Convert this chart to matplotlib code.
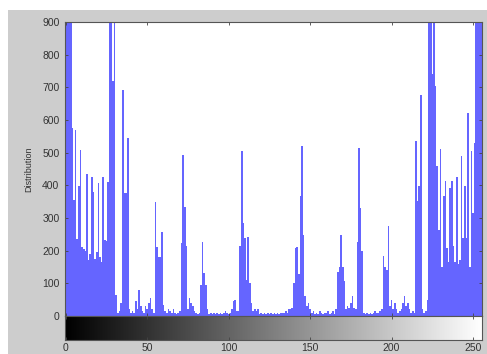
import numpy as np
import matplotlib
matplotlib.use("Agg")
import matplotlib.pyplot as plt
from matplotlib.patches import Rectangle

# histogram counts for gray levels 0..255 (tall ones clip at 900)
counts = [
    1500, 1200, 1000, 950, 576, 356, 568, 235, 397, 507, 210, 205, 200, 435, 172, 190,
    427, 381, 175, 195, 407, 180, 165, 424, 233, 230, 410, 950, 950, 720, 950, 65,
    10, 15, 40, 693, 376, 376, 545, 20, 10, 15, 10, 45, 20, 80, 30, 15,
    10, 30, 20, 40, 55, 20, 10, 349, 210, 180, 180, 256, 35, 15, 10, 20,
    15, 10, 20, 10, 5, 10, 15, 223, 494, 335, 215, 20, 55, 40, 30, 15,
    10, 5, 10, 95, 226, 131, 95, 20, 5, 10, 5, 8, 5, 10, 5, 10,
    5, 8, 15, 10, 5, 10, 20, 45, 50, 15, 15, 213, 504, 284, 240, 110,
    241, 100, 40, 15, 20, 15, 20, 5, 10, 5, 10, 5, 8, 5, 10, 5,
    8, 5, 10, 5, 10, 8, 10, 15, 10, 20, 20, 25, 100, 208, 212, 130,
    366, 519, 248, 60, 30, 40, 20, 10, 15, 5, 10, 5, 15, 10, 5, 10,
    10, 15, 5, 10, 15, 5, 20, 136, 150, 248, 150, 108, 20, 30, 25, 40,
    60, 25, 20, 226, 514, 330, 200, 10, 5, 8, 5, 10, 5, 10, 15, 10,
    10, 15, 20, 184, 150, 140, 276, 30, 50, 20, 40, 20, 10, 15, 20, 40,
    60, 30, 40, 20, 10, 15, 10, 535, 351, 397, 678, 20, 10, 15, 50, 950,
    950, 742, 950, 705, 458, 264, 511, 151, 366, 412, 208, 165, 392, 412, 215, 165,
    427, 160, 170, 489, 240, 397, 238, 622, 150, 504, 315, 530, 950, 950, 950, 950,
]
levels = np.arange(256)
y_ticks = [0, 100, 200, 300, 400, 500, 600, 700, 800, 900]
x_ticks = [0, 50, 100, 150, 200, 250]

plt.rcParams['font.family'] = ['Liberation Sans', 'DejaVu Sans']

fig = plt.figure(figsize=(4.87, 3.54), dpi=100, facecolor='white')
# gray window area, white strip at top and left
fig.patches.append(Rectangle((8 / 487, 0), 1 - 8 / 487, 1 - 10 / 354, transform=fig.transFigure,
                             facecolor='#cdcdcd', edgecolor='none', zorder=-1))

ax = fig.add_axes([65 / 487, 38 / 354, 417 / 487, 294 / 354])
ax.bar(levels, counts, width=1.0, color='#4a4aff', edgecolor='none', alpha=0.85)
ax.set_xlim(-0.5, 255.5)
ax.set_ylim(0, 900)
ax.set_yticks(y_ticks)
ax.set_xticks(x_ticks)
ax.set_xticklabels([])
ax.tick_params(direction='in', length=2.5, width=0.6, colors='#444444',
               labelsize=7.5, labelcolor='#333333', top=True, right=True, pad=4)
ax.set_ylabel('Distribution', fontsize=6.5, color='#333333', labelpad=6)
for s in ax.spines.values():
    s.set_color('#555555')
    s.set_linewidth(0.8)

# gray-level bar under the histogram
cax = fig.add_axes([65 / 487, 14 / 354, 417 / 487, 24 / 354])
cax.imshow(levels[np.newaxis, :], cmap='gray', aspect='auto',
           extent=(-0.5, 255.5, 0, 1), vmin=0, vmax=255)
cax.set_xlim(-0.5, 255.5)
cax.set_yticks([])
cax.set_xticks(x_ticks)
cax.tick_params(direction='in', length=2.5, width=0.6, colors='#444444',
                labelsize=7.5, labelcolor='#333333', top=True, pad=2)
for s in cax.spines.values():
    s.set_color('#555555')
    s.set_linewidth(0.8)

fig.savefig('out.png', dpi=100, facecolor=fig.get_facecolor())
